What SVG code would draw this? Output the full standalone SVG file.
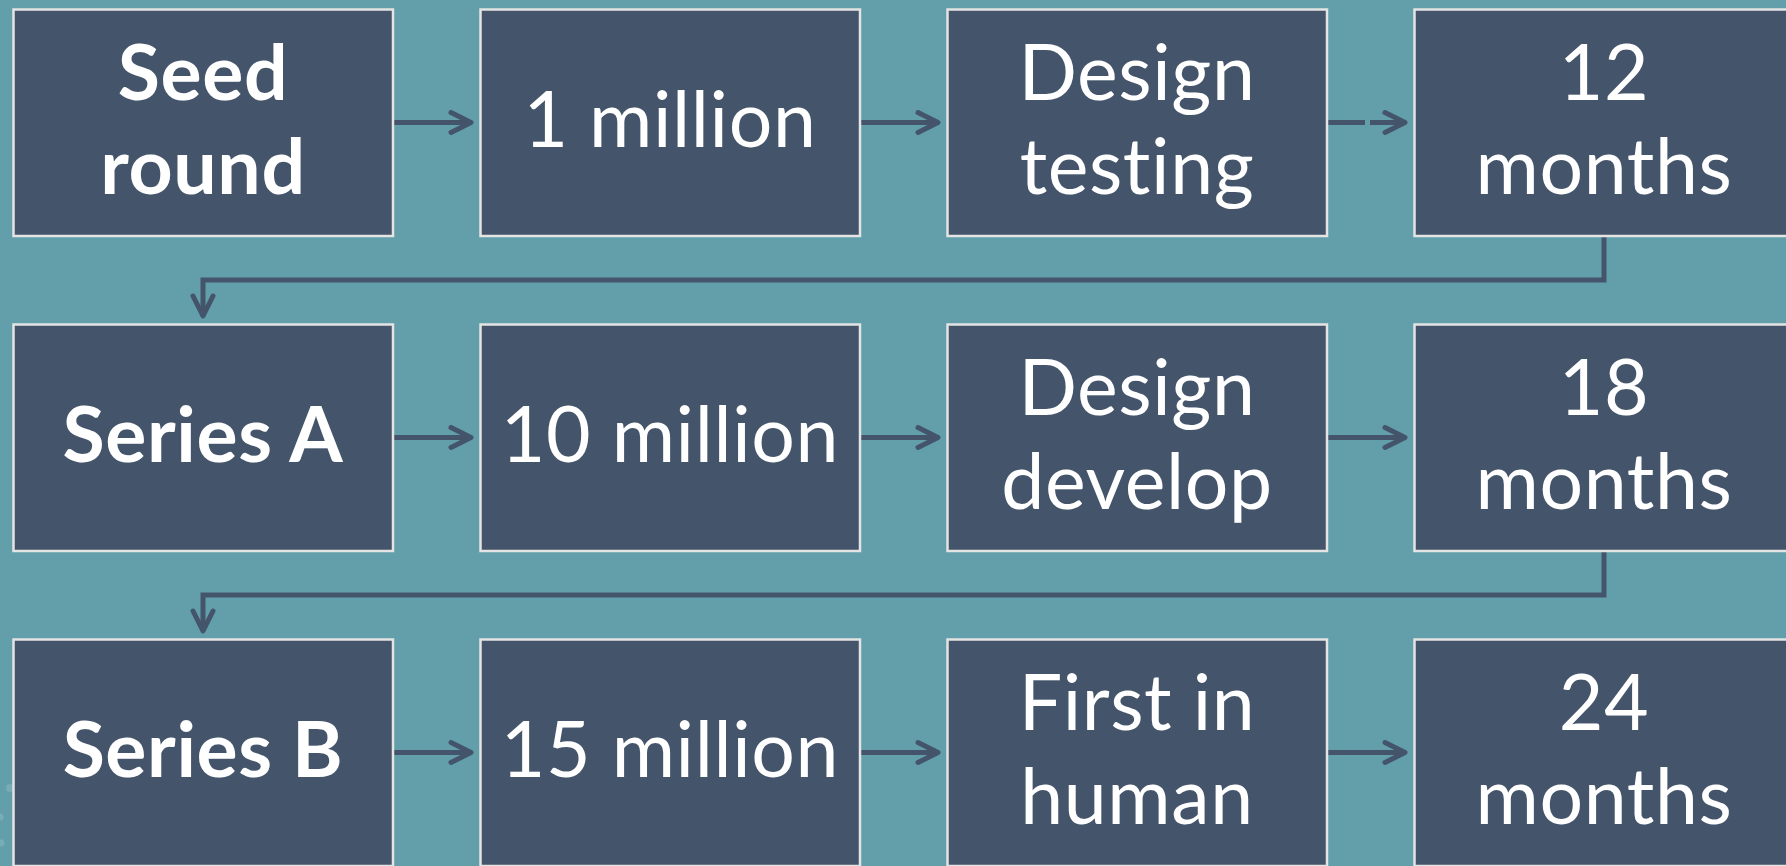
<svg xmlns="http://www.w3.org/2000/svg" width="1786" height="866" viewBox="0 0 1786 866">
  <style>
    .box { fill: #44546a; stroke: #e4e4e4; stroke-width: 2.5; }
    .lbl { font-family: Lato, "Open Sans", "Liberation Sans", sans-serif; font-size: 77px; fill: #ffffff; text-anchor: middle; font-variant-ligatures: none; letter-spacing: 0.6px; }
    .b { font-weight: 700; }
    .wire { fill: none; stroke: #44546a; stroke-width: 5; }
  </style>
  <defs>
    <marker id="chev" markerUnits="userSpaceOnUse" viewBox="-26 -15 30 30" markerWidth="30" markerHeight="30" refX="0" refY="0" orient="auto" overflow="visible">
      <path d="M-20,-10 L0,0 L-20,10" fill="none" stroke="#44546a" stroke-width="5" stroke-linecap="round" stroke-linejoin="round"/>
    </marker>
  </defs>

  <!-- background -->
  <rect x="0" y="0" width="1786" height="866" fill="#629fab"/>
  <g fill="#7fb3bd" opacity="0.7">
    <circle cx="10" cy="788" r="4"/>
    <circle cx="0" cy="817" r="3.5"/>
    <circle cx="1" cy="843" r="3.5"/>
  </g>

  <!-- connectors -->
  <g id="connectors" class="wire" marker-end="url(#chev)">
    <path d="M394,122.5 H471"/>
    <path d="M861,122.5 H938"/>
    <path d="M1328,122.5 H1405" stroke-dasharray="37 5 200"/>
    <path d="M1604,237 V280 H203 V316"/>
    <path d="M394,437.5 H471"/>
    <path d="M861,437.5 H938"/>
    <path d="M1328,437.5 H1405"/>
    <path d="M1604,552 V595 H203 V631"/>
    <path d="M394,752.5 H471"/>
    <path d="M861,752.5 H938"/>
    <path d="M1328,752.5 H1405"/>
  </g>

  <!-- row 1 -->
  <g id="seed-round">
    <rect class="box" x="13.5" y="9.5" width="379.5" height="226.5"/>
    <text class="lbl b" x="203" y="100">Seed</text>
    <text class="lbl b" x="203" y="194">round</text>
  </g>
  <g id="one-million">
    <rect class="box" x="480.5" y="9.5" width="379.5" height="226.5"/>
    <text class="lbl" x="670" y="147">1 million</text>
  </g>
  <g id="design-testing">
    <rect class="box" x="947.5" y="9.5" width="379.5" height="226.5"/>
    <text class="lbl" x="1137" y="100">Design</text>
    <text class="lbl" x="1137" y="194">testing</text>
  </g>
  <g id="twelve-months">
    <rect class="box" x="1414.5" y="9.5" width="379.5" height="226.5"/>
    <text class="lbl" x="1604" y="100">12</text>
    <text class="lbl" x="1604" y="194">months</text>
  </g>

  <!-- row 2 -->
  <g id="series-a">
    <rect class="box" x="13.5" y="324.5" width="379.5" height="226.5"/>
    <text class="lbl b" x="203" y="462">Series A</text>
  </g>
  <g id="ten-million">
    <rect class="box" x="480.5" y="324.5" width="379.5" height="226.5"/>
    <text class="lbl" x="670" y="462">10 million</text>
  </g>
  <g id="design-develop">
    <rect class="box" x="947.5" y="324.5" width="379.5" height="226.5"/>
    <text class="lbl" x="1137" y="415">Design</text>
    <text class="lbl" x="1137" y="509">develop</text>
  </g>
  <g id="eighteen-months">
    <rect class="box" x="1414.5" y="324.5" width="379.5" height="226.5"/>
    <text class="lbl" x="1604" y="415">18</text>
    <text class="lbl" x="1604" y="509">months</text>
  </g>

  <!-- row 3 -->
  <g id="series-b">
    <rect class="box" x="13.5" y="639.5" width="379.5" height="226.5"/>
    <text class="lbl b" x="203" y="777">Series B</text>
  </g>
  <g id="fifteen-million">
    <rect class="box" x="480.5" y="639.5" width="379.5" height="226.5"/>
    <text class="lbl" x="670" y="777">15 million</text>
  </g>
  <g id="first-in-human">
    <rect class="box" x="947.5" y="639.5" width="379.5" height="226.5"/>
    <text class="lbl" x="1137" y="730">First in</text>
    <text class="lbl" x="1137" y="824">human</text>
  </g>
  <g id="twenty-four-months">
    <rect class="box" x="1414.5" y="639.5" width="379.5" height="226.5"/>
    <text class="lbl" x="1604" y="730">24</text>
    <text class="lbl" x="1604" y="824">months</text>
  </g>
</svg>
